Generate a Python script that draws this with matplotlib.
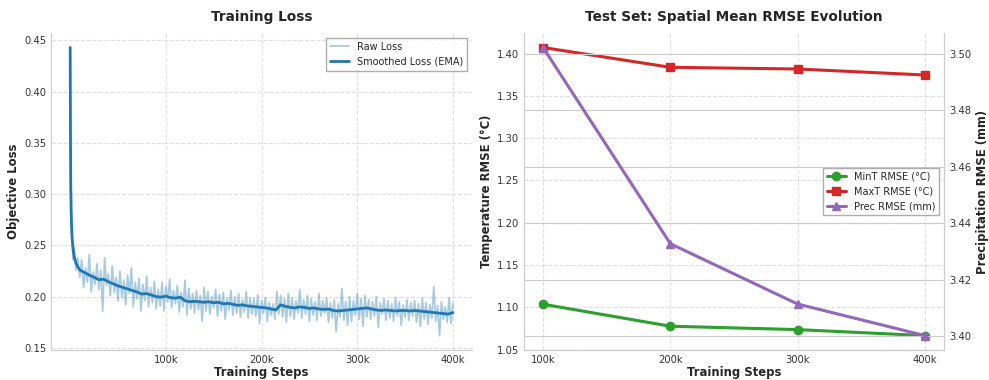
import numpy as np
import matplotlib
matplotlib.use("Agg")
import matplotlib.pyplot as plt
import seaborn as sns
from matplotlib.ticker import FuncFormatter

# --- training loss ---
raw_head_steps = [0, 300, 600, 1000, 1500, 2000, 3000, 4000, 6000, 8000, 10000]
raw_head_loss = [0.443, 0.350, 0.300, 0.280, 0.262, 0.255, 0.236, 0.248, 0.226, 0.238, 0.219]
raw_loss = [
    0.236, 0.209, 0.228, 0.214, 0.241, 0.205, 0.224, 0.212, 0.232, 0.207,
    0.226, 0.186, 0.238, 0.211, 0.222, 0.201, 0.230, 0.204, 0.219, 0.196,
    0.225, 0.199, 0.216, 0.192, 0.221, 0.203, 0.228, 0.190, 0.214, 0.198,
    0.218, 0.186, 0.212, 0.196, 0.220, 0.190, 0.209, 0.194, 0.215, 0.188,
    0.207, 0.191, 0.214, 0.186, 0.210, 0.195, 0.217, 0.189, 0.206, 0.193,
    0.211, 0.185, 0.204, 0.190, 0.216, 0.182, 0.208, 0.188, 0.203, 0.184,
    0.206, 0.187, 0.201, 0.176, 0.209, 0.186, 0.205, 0.183, 0.200, 0.189,
    0.207, 0.181, 0.202, 0.186, 0.204, 0.178, 0.199, 0.187, 0.206, 0.182,
    0.200, 0.184, 0.203, 0.180, 0.197, 0.185, 0.205, 0.179, 0.199, 0.183,
    0.198, 0.181, 0.202, 0.174, 0.196, 0.184, 0.199, 0.176, 0.194, 0.182,
    0.193, 0.178, 0.205, 0.183, 0.201, 0.180, 0.198, 0.175, 0.203, 0.181,
    0.199, 0.178, 0.196, 0.184, 0.207, 0.179, 0.197, 0.183, 0.201, 0.176,
    0.198, 0.182, 0.195, 0.177, 0.203, 0.181, 0.196, 0.184, 0.199, 0.175,
    0.194, 0.179, 0.197, 0.166, 0.193, 0.180, 0.208, 0.177, 0.195, 0.172,
    0.200, 0.176, 0.196, 0.182, 0.203, 0.178, 0.198, 0.171, 0.201, 0.180,
    0.197, 0.178, 0.195, 0.181, 0.200, 0.170, 0.194, 0.183, 0.198, 0.177,
    0.196, 0.179, 0.193, 0.176, 0.199, 0.181, 0.195, 0.172, 0.192, 0.180,
    0.197, 0.177, 0.194, 0.181, 0.196, 0.175, 0.193, 0.171, 0.199, 0.178,
    0.194, 0.173, 0.192, 0.179, 0.210, 0.176, 0.191, 0.162, 0.195, 0.178,
    0.190, 0.175, 0.199, 0.174, 0.193,
]
raw_steps = raw_head_steps + list(range(12000, 400001, 2000))
raw_all = raw_head_loss + raw_loss

ema_head_steps = [0, 300, 600, 1000, 1500, 2000, 3000, 4000, 6000, 8000, 10000]
ema_head_loss = [0.443, 0.360, 0.310, 0.285, 0.268, 0.258, 0.247, 0.240, 0.233, 0.229, 0.226]
ema_loss = [
    0.2235, 0.2210, 0.2190, 0.2165, 0.2170, 0.2145, 0.2125, 0.2105, 0.2090, 0.2075,
    0.2060, 0.2045, 0.2025, 0.2030, 0.2015, 0.2000, 0.1995, 0.2005, 0.1990, 0.1985,
    0.1995, 0.1960, 0.1950, 0.1955, 0.1950, 0.1945, 0.1950, 0.1940, 0.1945, 0.1930,
    0.1935, 0.1925, 0.1915, 0.1920, 0.1910, 0.1905, 0.1900, 0.1895, 0.1890, 0.1880,
    0.1870, 0.1920, 0.1905, 0.1895, 0.1890, 0.1900, 0.1895, 0.1885, 0.1890, 0.1880,
    0.1875, 0.1880, 0.1865, 0.1860, 0.1865, 0.1870, 0.1875, 0.1880, 0.1885, 0.1890,
    0.1880, 0.1870, 0.1865, 0.1870, 0.1865, 0.1860, 0.1865, 0.1865, 0.1860, 0.1865,
    0.1860, 0.1855, 0.1850, 0.1845, 0.1840, 0.1835, 0.1830, 0.1845,
]
ema_steps = ema_head_steps + list(range(15000, 400001, 5000))
ema_all = ema_head_loss + ema_loss

# --- test set RMSE ---
eval_steps = [100000, 200000, 300000, 400000]
mint_rmse = [1.1037, 1.0777, 1.0737, 1.0666]
maxt_rmse = [1.4071, 1.3837, 1.3817, 1.3746]
prec_rmse = [3.5023, 3.4327, 3.4113, 3.4001]

sns.set_style("whitegrid")
plt.rcParams['font.family'] = ['DejaVu Sans']

TITLE_FS = 9.8
LABEL_FS = 8.4
TICK_FS = 7.2
LEG_FS = 7

fig = plt.figure(figsize=(9.89, 3.8), dpi=100)
ax1 = fig.add_axes([0.0516, 0.0789, 0.4257, 0.834])
ax2 = fig.add_axes([0.5298, 0.0789, 0.4247, 0.834])

kfmt = FuncFormatter(lambda v, p: f"{int(v / 1000)}k")

# left panel
ax1.plot(raw_steps, raw_all, color='#1f77b4', alpha=0.38, lw=1.3, label='Raw Loss')
ax1.plot(ema_steps, ema_all, color='#1f77b4', lw=2, label='Smoothed Loss (EMA)')
ax1.set_xticks([100000, 200000, 300000, 400000])
ax1.xaxis.set_major_formatter(kfmt)
ax1.set_title('Training Loss', fontsize=TITLE_FS, fontweight='bold', color='#262626', pad=9)
ax1.set_xlabel('Training Steps', fontsize=LABEL_FS, fontweight='bold')
ax1.set_ylabel('Objective Loss', fontsize=LABEL_FS, fontweight='bold')
ax1.xaxis.set_label_coords(0.5, -0.05)
ax1.yaxis.set_label_coords(-0.074, 0.5)
ax1.grid(True, linestyle='--', alpha=0.6)
ax1.legend(loc='upper right', fontsize=LEG_FS, frameon=True, edgecolor='#999999', fancybox=False)
ax1.tick_params(labelsize=TICK_FS, colors='#333333', length=0, pad=3.5)
for s in ['top', 'right']:
    ax1.spines[s].set_visible(False)

# right panel
ax2.plot(eval_steps, mint_rmse, color='#2ca02c', marker='o', ms=6, lw=2.2, label='MinT RMSE (°C)')
ax2.plot(eval_steps, maxt_rmse, color='#d62728', marker='s', ms=6, lw=2.2, label='MaxT RMSE (°C)')
ax2.set_xticks(eval_steps)
ax2.xaxis.set_major_formatter(kfmt)
ax2.set_title('Test Set: Spatial Mean RMSE Evolution', fontsize=TITLE_FS, fontweight='bold',
              color='#262626', pad=9)
ax2.set_xlabel('Training Steps', fontsize=LABEL_FS, fontweight='bold')
ax2.set_ylabel('Temperature RMSE (°C)', fontsize=LABEL_FS, fontweight='bold')
ax2.xaxis.set_label_coords(0.5, -0.05)
ax2.yaxis.set_label_coords(-0.074, 0.5)
ax2.grid(True, linestyle='--', alpha=0.6)
ax2.tick_params(labelsize=TICK_FS, colors='#333333', length=0, pad=3.5)
ax2.spines['top'].set_visible(False)

ax3 = ax2.twinx()
ax3.plot(eval_steps, prec_rmse, color='#9467bd', marker='^', ms=6, lw=2.2, label='Prec RMSE (mm)')
ax3.set_ylabel('Precipitation RMSE (mm)', fontsize=LABEL_FS, fontweight='bold')
ax3.yaxis.set_label_coords(1.075, 0.5)
ax3.set_yticks([3.40, 3.42, 3.44, 3.46, 3.48, 3.50])
ax3.tick_params(labelsize=TICK_FS, colors='#333333', length=0, pad=3.5)
ax3.spines['top'].set_visible(False)

h1, l1 = ax2.get_legend_handles_labels()
h2, l2 = ax3.get_legend_handles_labels()
ax3.legend(h1 + h2, l1 + l2, loc='center right', fontsize=LEG_FS, frameon=True,
           edgecolor='#999999', fancybox=False)

fig.savefig('out.png', dpi=100)
